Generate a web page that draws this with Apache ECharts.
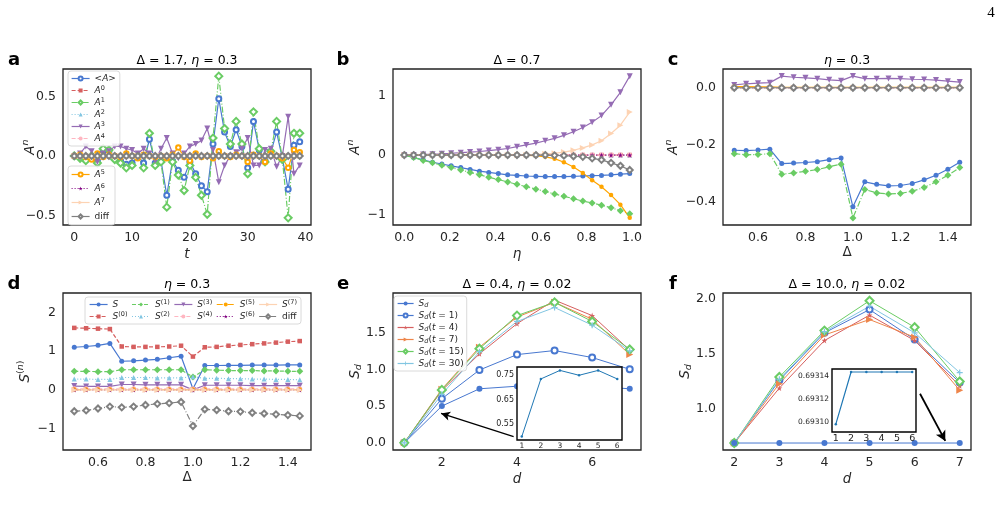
<!DOCTYPE html>
<html>
<head>
<meta charset="utf-8">
<script src="https://cdn.jsdelivr.net/npm/echarts@6/dist/echarts.min.js"></script>
<style>
  html, body { margin: 0; padding: 0; background: #fff; }
  #main { width: 1003px; height: 511px; }
</style>
</head>
<body>
<div id="main"></div>
<script>
// ---- panel a: A^n against t (Delta = 1.7, eta = 0.3)
var aT = [0,1,2,3,4,5,6,7,8,9,10,11,12,13,14,15,16,17,18,19,20,21,22,23,24,25,26,27,28,29,30,31,32,33,34,35,36,37,38,39];
var aMean = [0.00,-0.01,-0.03,0.00,-0.04,0.04,0.04,-0.02,-0.04,-0.07,-0.06,0.00,-0.06,0.14,-0.06,-0.04,-0.33,-0.04,-0.12,-0.18,-0.05,-0.15,-0.25,-0.30,0.10,0.48,0.20,0.08,0.22,0.08,-0.10,0.29,0.05,-0.04,0.03,0.20,-0.02,-0.28,0.09,0.12];
var aA0 = [0,0,0,0,0,0,0,0,0,0,0,0,0,0,0,0,0,0,0,0,0,0,0,0,0,0,0,0,0,0,0,0,0,0,0,0,0,0,0,0];
var aA1 = [0.00,-0.02,-0.04,0.00,-0.06,0.06,0.05,-0.03,-0.06,-0.10,-0.08,0.00,-0.10,0.19,-0.08,-0.05,-0.43,-0.05,-0.16,-0.29,-0.08,-0.18,-0.33,-0.49,0.15,0.67,0.23,0.10,0.29,0.10,-0.15,0.37,0.06,-0.05,0.04,0.29,-0.03,-0.52,0.19,0.19];
var aA2 = [0,0,0,0,0,0,0,0,0,0,0,0,0,0,0,0,0,0,0,0,0,0,0,0,0,0,0,0,0,0,0,0,0,0,0,0,0,0,0,0];
var aA3 = [0.00,0.02,0.08,0.04,-0.05,0.02,0.04,0.08,0.08,0.06,0.05,0.02,0.06,0.02,-0.04,0.06,0.15,0.02,-0.02,0.02,0.08,0.10,0.13,0.23,0.05,-0.22,-0.08,0.00,0.03,0.06,0.15,-0.08,-0.08,0.05,0.06,-0.09,0.00,0.33,-0.15,-0.08];
var aA4 = [0,0,0,0,0,0,0,0,0,0,0,0,0,0,0,0,0,0,0,0,0,0,0,0,0,0,0,0,0,0,0,0,0,0,0,0,0,0,0,0];
var aA5 = [0.00,0.01,-0.01,-0.03,0.02,-0.01,0.01,0.00,-0.01,0.02,0.00,-0.02,0.01,0.00,-0.01,0.00,-0.02,0.01,0.07,-0.01,-0.04,0.02,-0.01,0.00,-0.02,0.04,0.00,-0.01,0.01,0.00,-0.05,0.01,0.00,-0.05,0.02,0.00,-0.02,-0.10,0.05,0.03];
var aA6 = [0,0,0,0,0,0,0,0,0,0,0,0,0,0,0,0,0,0,0,0,0,0,0,0,0,0,0,0,0,0,0,0,0,0,0,0,0,0,0,0];
var aA7 = [0,0,0,0,0,0,0,0,0,0,0,0,0,0,0,0,0,0,0,0,0,0,0,0,0,0,0,0,0,0,0,0,0,0,0,0,0,0,0,0];
var aDiff = [0,0,0,0,0,0,0,0,0,0,0,0,0,0,0,0,0,0,0,0,0,0,0,0,0,0,0,0,0,0,0,0,0,0,0,0,0,0,0,0];

// ---- panel b: A^n against eta (Delta = 0.7)
var bEta = [0.000,0.041,0.083,0.124,0.165,0.206,0.248,0.289,0.330,0.371,0.413,0.454,0.495,0.536,0.578,0.619,0.660,0.701,0.743,0.784,0.825,0.866,0.908,0.949,0.990];
var bMean = [0,-0.04,-0.08,-0.12,-0.15,-0.18,-0.21,-0.24,-0.27,-0.29,-0.31,-0.33,-0.34,-0.35,-0.355,-0.36,-0.36,-0.36,-0.355,-0.35,-0.345,-0.34,-0.33,-0.32,-0.31];
var bA0 = [0,0,0,0,0,0,0,0,0,0,0,0,0,0,0,0,0,0,0,0,0,0,0,0,0];
var bA1 = [0,-0.04,-0.09,-0.13,-0.17,-0.21,-0.25,-0.29,-0.33,-0.37,-0.41,-0.45,-0.49,-0.53,-0.57,-0.61,-0.65,-0.69,-0.73,-0.77,-0.80,-0.84,-0.88,-0.93,-0.98];
var bA2 = [0,0,0,0,0,0,0,0,0,0,0,0,0,0,0,0,0,0,0,0,0,0,0,0,0];
var bA3 = [0,0.003,0.008,0.015,0.022,0.03,0.04,0.05,0.06,0.075,0.09,0.11,0.14,0.17,0.20,0.24,0.28,0.33,0.39,0.46,0.55,0.66,0.84,1.05,1.32];
var bA4 = [0,0,0,0,0,0,0,0,0,0,0,0,0,0,0,0,0,0,0,0,0,0,0,0,0];
var bA5 = [0,0,0,0,0,0,0,0,0,0,0,0,0,-0.005,-0.01,-0.03,-0.06,-0.12,-0.20,-0.30,-0.42,-0.53,-0.67,-0.83,-1.05];
var bA6 = [0,0,0,0,0,0,0,0,0,0,0,0,0,0,0,0,0,0,0,0,0,0,0,0,0];
var bA7 = [0,0,0,0,0,0,0,0,0,0,0,0,0,0.005,0.01,0.02,0.03,0.05,0.08,0.12,0.17,0.24,0.36,0.50,0.72];
var bDiff = [0,0,0,0,0,0,0,0,0,0,0,0,0,0,0,0,-0.005,-0.01,-0.02,-0.03,-0.055,-0.08,-0.13,-0.18,-0.25];

// ---- panel c: A^n against Delta (eta = 0.3)
var cDelta = [0.5,0.55,0.6,0.65,0.7,0.75,0.8,0.85,0.9,0.95,1.0,1.05,1.1,1.15,1.2,1.25,1.3,1.35,1.4,1.45];
var cMean = [-0.220,-0.221,-0.219,-0.216,-0.267,-0.265,-0.263,-0.260,-0.253,-0.247,-0.419,-0.331,-0.340,-0.345,-0.344,-0.337,-0.324,-0.308,-0.287,-0.262];
var cA1 = [-0.232,-0.236,-0.235,-0.232,-0.304,-0.300,-0.294,-0.288,-0.278,-0.269,-0.458,-0.358,-0.370,-0.374,-0.372,-0.364,-0.351,-0.331,-0.308,-0.281];
var cA3 = [0.010,0.014,0.016,0.018,0.041,0.037,0.035,0.032,0.028,0.025,0.041,0.032,0.032,0.033,0.032,0.030,0.029,0.027,0.023,0.020];
var cA5 = [0.004,0.004,0.003,0.003,0.001,0.001,0.001,0.001,0.001,0.001,0.001,0.001,0.001,0.001,0.001,0.001,0.001,0.001,0.001,0.001];
var cZero = [0,0,0,0,0,0,0,0,0,0,0,0,0,0,0,0,0,0,0,0];

// ---- panel d: S^(n) against Delta (eta = 0.3)
var dDelta = [0.5,0.55,0.6,0.65,0.7,0.75,0.8,0.85,0.9,0.95,1.0,1.05,1.1,1.15,1.2,1.25,1.3,1.35,1.4,1.45];
var dS = [1.10,1.12,1.15,1.20,0.74,0.75,0.77,0.79,0.83,0.87,0.03,0.63,0.63,0.635,0.635,0.64,0.64,0.64,0.645,0.645];
var dS0 = [1.60,1.59,1.58,1.57,1.12,1.11,1.11,1.11,1.12,1.14,0.86,1.10,1.11,1.14,1.16,1.18,1.20,1.22,1.245,1.26];
var dS1 = [0.48,0.48,0.47,0.47,0.52,0.52,0.52,0.52,0.52,0.52,0.33,0.52,0.51,0.50,0.50,0.50,0.49,0.49,0.48,0.48];
var dS2 = [0.28,0.28,0.27,0.27,0.32,0.32,0.32,0.31,0.31,0.31,0.34,0.30,0.30,0.29,0.29,0.28,0.28,0.27,0.27,0.26];
var dS3 = [0.10,0.09,0.09,0.09,0.14,0.14,0.13,0.13,0.13,0.13,0.00,0.12,0.12,0.12,0.12,0.11,0.11,0.11,0.11,0.11];
var dS4 = [0.03,0.03,0.03,0.03,0.03,0.03,0.03,0.03,0.03,0.03,0.03,0.03,0.03,0.03,0.03,0.03,0.03,0.03,0.03,0.03];
var dS5 = [0.01,0.01,0.01,0.01,0.01,0.01,0.01,0.01,0.01,0.01,0.01,0.01,0.01,0.01,0.01,0.01,0.01,0.01,0.01,0.01];
var dS6 = [0,0,0,0,0,0,0,0,0,0,0,0,0,0,0,0,0,0,0,0];
var dS7 = [0,0,0,0,0,0,0,0,0,0,0,0,0,0,0,0,0,0,0,0];
var dDiff = [-0.55,-0.53,-0.48,-0.43,-0.45,-0.43,-0.39,-0.36,-0.34,-0.31,-0.93,-0.50,-0.52,-0.55,-0.56,-0.59,-0.61,-0.63,-0.65,-0.67];

// ---- panel e: S_d against d (Delta = 0.4, eta = 0.02)
var eD = [1,2,3,4,5,6,7];
var eSd = [0.0,0.50,0.735,0.77,0.75,0.77,0.735];
var eT1 = [0.0,0.60,0.99,1.20,1.255,1.16,1.00];
var eT4 = [0.0,0.71,1.21,1.62,1.94,1.73,1.26];
var eT7 = [0.0,0.73,1.30,1.71,1.91,1.68,1.20];
var eT15 = [0.0,0.72,1.28,1.73,1.91,1.65,1.27];
var eT30 = [0.0,0.66,1.24,1.65,1.84,1.60,1.25];
var eInsetX = [1,2,3,4,5,6];
var eInsetY = [0.498,0.735,0.770,0.750,0.770,0.735];

// ---- panel f: S_d against d (Delta = 10.0, eta = 0.02)
var fD = [2,3,4,5,6,7];
var fSd = [0.693098,0.6931435,0.6931435,0.6931435,0.6931435,0.6931435];
var fT1 = [0.693,1.26,1.69,1.90,1.63,1.24];
var fT4 = [0.693,1.19,1.62,1.85,1.62,1.21];
var fT7 = [0.693,1.23,1.67,1.81,1.65,1.17];
var fT15 = [0.693,1.29,1.71,1.98,1.74,1.25];
var fT30 = [0.693,1.27,1.70,1.93,1.69,1.33];
var fInsetX = [1,2,3,4,5,6];
var fInsetY = [0.693098,0.6931435,0.6931435,0.6931435,0.6931435,0.6931435];

var FONT = 'DejaVu Sans';
var INK = '#262626';
var STAR = 'path://M50,0L61.8,35.4L99,35.4L68.9,57.3L80.4,92.7L50,70.8L19.6,92.7L31.1,57.3L1,35.4L38.2,35.4Z';
var PLUS = 'path://M40,0H60V40H100V60H60V100H40V60H0V40H40Z';

var C = {
    blue: '#4878d0', red: '#d65f5f', green: '#6acc64', sky: '#82c6e2', purple: '#956cb4',
    pink: '#ffb6c1', orange: '#ffa500', plum: '#800080', peach: '#fdd3b3', grey: '#808080', coral: '#ee854a'
};

var RICH = {
    i: { fontStyle: 'italic' },
    sup: { fontSize: 6.5, verticalAlign: 'top', lineHeight: 6 },
    supi: { fontSize: 6.5, fontStyle: 'italic', verticalAlign: 'top', lineHeight: 6 },
    sub: { fontSize: 6.5, fontStyle: 'italic', verticalAlign: 'bottom', lineHeight: 6 },
    sp: { width: 2 }
};
var BIGRICH = {
    i: { fontStyle: 'italic', fontSize: 13.5, lineHeight: 18 },
    sup: { fontSize: 9.5, verticalAlign: 'top', lineHeight: 9 },
    supi: { fontSize: 9.5, fontStyle: 'italic', verticalAlign: 'top', lineHeight: 9 },
    sub: { fontSize: 9.5, fontStyle: 'italic', verticalAlign: 'bottom', lineHeight: 9 }
};

var LABELS = {
    'a:mean': '<{i|A}>', 'a:0': '{i|A}{sup|0}', 'a:1': '{i|A}{sup|1}', 'a:2': '{i|A}{sup|2}',
    'a:3': '{i|A}{sup|3}', 'a:4': '{i|A}{sup|4}', 'a:5': '{i|A}{sup|5}', 'a:6': '{i|A}{sup|6}',
    'a:7': '{i|A}{sup|7}', 'a:diff': 'diff',
    'd:S': '{i|S}{sp| }', 'd:0': '{i|S}{sup|(0)}{sp| }', 'd:1': '{i|S}{sup|(1)}{sp| }', 'd:2': '{i|S}{sup|(2)}{sp| }',
    'd:3': '{i|S}{sup|(3)}{sp| }', 'd:4': '{i|S}{sup|(4)}{sp| }', 'd:5': '{i|S}{sup|(5)}{sp| }', 'd:6': '{i|S}{sup|(6)}{sp| }',
    'd:7': '{i|S}{sup|(7)}', 'd:diff': 'diff',
    'e:Sd': '{i|S}{sub|d}', 'e:1': '{i|S}{sub|d}({i|t} = 1)', 'e:4': '{i|S}{sub|d}({i|t} = 4)',
    'e:7': '{i|S}{sub|d}({i|t} = 7)', 'e:15': '{i|S}{sub|d}({i|t} = 15)', 'e:30': '{i|S}{sub|d}({i|t} = 30)'
};

function fmt(dec) {
    return function (v) {
        var s = Math.abs(v).toFixed(dec);
        return (v < -1e-12 ? '\u2212' : '') + s;
    };
}

function zip(xs, ys) {
    return xs.map(function (x, i) { return [x, ys[i]]; });
}

function mk(name, idx, xs, ys, st) {
    return {
        type: 'line', name: name, xAxisIndex: idx, yAxisIndex: idx,
        data: zip(xs, ys),
        symbol: st.symbol, symbolSize: st.size || 5, symbolRotate: st.rot || 0,
        showAllSymbol: true, animation: false, z: st.z || 2,
        lineStyle: { color: st.color, width: st.width || 1.2, type: st.type || 'solid' },
        itemStyle: { color: st.color, borderWidth: 0 },
        emphasis: { disabled: true }
    };
}

// line styles of the nine A^n curves plus diff
function styleSet(open) {
    return {
        mean: { color: C.blue, symbol: open ? 'emptyCircle' : 'circle', size: 5 },
        s0: { color: C.red, symbol: 'rect', size: 4.5, type: [4, 2] },
        s1: { color: C.green, symbol: open ? 'emptyDiamond' : 'diamond', size: 7, type: [6, 2, 1, 2] },
        s2: { color: C.sky, symbol: 'triangle', size: 5, type: [1, 2] },
        s3: { color: C.purple, symbol: 'triangle', rot: 180, size: 6 },
        s4: { color: C.pink, symbol: 'circle', size: 5, type: [4, 2] },
        s5: { color: C.orange, symbol: open ? 'emptyCircle' : 'circle', size: 4.5 },
        s6: { color: C.plum, symbol: STAR, size: 5, type: [1, 2] },
        s7: { color: C.peach, symbol: 'triangle', rot: -90, size: 6 },
        diff: { color: C.grey, symbol: 'emptyDiamond', size: 6 }
    };
}

var series = [];
var sa = styleSet(true);
series.push(mk('a:mean', 0, aT, aMean, sa.mean));
series.push(mk('a:0', 0, aT, aA0, sa.s0));
series.push(mk('a:1', 0, aT, aA1, sa.s1));
series.push(mk('a:2', 0, aT, aA2, sa.s2));
series.push(mk('a:3', 0, aT, aA3, sa.s3));
series.push(mk('a:4', 0, aT, aA4, sa.s4));
series.push(mk('a:5', 0, aT, aA5, sa.s5));
series.push(mk('a:6', 0, aT, aA6, sa.s6));
series.push(mk('a:7', 0, aT, aA7, sa.s7));
series.push(mk('a:diff', 0, aT, aDiff, sa.diff));

var sb = styleSet(false);
series.push(mk('b:mean', 1, bEta, bMean, sb.mean));
series.push(mk('b:0', 1, bEta, bA0, sb.s0));
series.push(mk('b:1', 1, bEta, bA1, sb.s1));
series.push(mk('b:2', 1, bEta, bA2, sb.s2));
series.push(mk('b:3', 1, bEta, bA3, sb.s3));
series.push(mk('b:4', 1, bEta, bA4, sb.s4));
series.push(mk('b:5', 1, bEta, bA5, sb.s5));
series.push(mk('b:6', 1, bEta, bA6, sb.s6));
series.push(mk('b:7', 1, bEta, bA7, sb.s7));
series.push(mk('b:diff', 1, bEta, bDiff, sb.diff));

series.push(mk('c:mean', 2, cDelta, cMean, sb.mean));
series.push(mk('c:0', 2, cDelta, cZero, sb.s0));
series.push(mk('c:1', 2, cDelta, cA1, sb.s1));
series.push(mk('c:2', 2, cDelta, cZero, sb.s2));
series.push(mk('c:3', 2, cDelta, cA3, sb.s3));
series.push(mk('c:4', 2, cDelta, cZero, sb.s4));
series.push(mk('c:5', 2, cDelta, cA5, sb.s5));
series.push(mk('c:6', 2, cDelta, cZero, sb.s6));
series.push(mk('c:7', 2, cDelta, cZero, sb.s7));
series.push(mk('c:diff', 2, cDelta, cZero, sb.diff));

var sd = styleSet(false);
sd.s1.type = [4, 2];
sd.s5.type = [6, 2, 1, 2];
sd.diff.type = [6, 2, 1, 2];
series.push(mk('d:S', 3, dDelta, dS, sd.mean));
series.push(mk('d:0', 3, dDelta, dS0, sd.s0));
series.push(mk('d:1', 3, dDelta, dS1, sd.s1));
series.push(mk('d:2', 3, dDelta, dS2, sd.s2));
series.push(mk('d:3', 3, dDelta, dS3, sd.s3));
series.push(mk('d:4', 3, dDelta, dS4, sd.s4));
series.push(mk('d:5', 3, dDelta, dS5, sd.s5));
series.push(mk('d:6', 3, dDelta, dS6, sd.s6));
series.push(mk('d:7', 3, dDelta, dS7, sd.s7));
series.push(mk('d:diff', 3, dDelta, dDiff, sd.diff));

var sdStyles = {
    sd: { color: C.blue, symbol: 'circle', size: 6, width: 1 },
    t1: { color: C.blue, symbol: 'emptyCircle', size: 6, width: 1 },
    t4: { color: C.red, symbol: STAR, size: 6, width: 1 },
    t7: { color: C.coral, symbol: 'triangle', rot: -90, size: 7, width: 1 },
    t15: { color: C.green, symbol: 'emptyDiamond', size: 8, width: 1 },
    t30: { color: C.sky, symbol: PLUS, size: 6, width: 1 }
};
var eSdSeries = mk('e:Sd', 4, eD, eSd, sdStyles.sd);
eSdSeries.markLine = {
    silent: true, animation: false, symbol: ['none', 'arrow'], symbolSize: [7, 9],
    label: { show: false }, lineStyle: { color: '#000', width: 1.3, type: 'solid' },
    data: [[{ coord: [3.91, 0.086] }, { coord: [1.98, 0.40] }]]
};
series.push(eSdSeries);
series.push(mk('e:1', 4, eD, eT1, sdStyles.t1));
series.push(mk('e:4', 4, eD, eT4, sdStyles.t4));
series.push(mk('e:7', 4, eD, eT7, sdStyles.t7));
series.push(mk('e:15', 4, eD, eT15, sdStyles.t15));
series.push(mk('e:30', 4, eD, eT30, sdStyles.t30));

var fSdSeries = mk('f:Sd', 5, fD, fSd, sdStyles.sd);
fSdSeries.markLine = {
    silent: true, animation: false, symbol: ['none', 'arrow'], symbolSize: [8, 10],
    label: { show: false }, lineStyle: { color: '#000', width: 1.8, type: 'solid' },
    data: [[{ coord: [6.12, 1.139] }, { coord: [6.68, 0.712] }]]
};
series.push(mk('f:1', 5, fD, fT1, sdStyles.t1));
series.push(mk('f:4', 5, fD, fT4, sdStyles.t4));
series.push(mk('f:7', 5, fD, fT7, sdStyles.t7));
series.push(mk('f:15', 5, fD, fT15, sdStyles.t15));
series.push(mk('f:30', 5, fD, fT30, sdStyles.t30));
series.push(fSdSeries);

series.push(mk('e:inset', 6, eInsetX, eInsetY, { color: '#1f77b4', symbol: 'circle', size: 2.5, width: 1, z: 12 }));
series.push(mk('f:inset', 7, fInsetX, fInsetY, { color: '#1f77b4', symbol: 'circle', size: 2.5, width: 1.2, z: 12 }));

// panel frames and axes
var panels = [
    { g: [63, 69, 248, 156], x: [-1.95, 40.95], xt: [0, 10, 20, 30, 40], xd: 0, y: [-0.58, 0.73], yt: [-0.5, 0, 0.5], yd: 1, xn: '{i|t}', yn: '{i|A}{supi|n}', yg: 24 },
    { g: [393, 69, 248, 156], x: [-0.0495, 1.0395], xt: [0, 0.2, 0.4, 0.6, 0.8, 1.0], xd: 1, y: [-1.17, 1.44], yt: [-1, 0, 1], yd: 0, xn: '{i|η}', yn: '{i|A}{supi|n}', yg: 29 },
    { g: [723, 69, 248, 156], x: [0.4525, 1.4975], xt: [0.6, 0.8, 1.0, 1.2, 1.4], xd: 1, y: [-0.483, 0.066], yt: [-0.4, -0.2, 0], yd: 1, xn: 'Δ', yn: '{i|A}{supi|n}', yg: 41 },
    { g: [63, 293, 248, 157], x: [0.4525, 1.4975], xt: [0.6, 0.8, 1.0, 1.2, 1.4], xd: 1, y: [-1.55, 2.5], yt: [-1, 0, 1, 2], yd: 0, xn: 'Δ', yn: '{i|S}{sup|(}{supi|n}{sup|)}', yg: 29 },
    { g: [393, 293, 248, 157], x: [0.7, 7.3], xt: [2, 4, 6], xd: 0, y: [-0.097, 2.037], yt: [0, 0.5, 1, 1.5], yd: 1, xn: '{i|d}', yn: '{i|S}{sub|d}', yg: 29 },
    { g: [723, 293, 248, 157], x: [1.75, 7.25], xt: [2, 3, 4, 5, 6, 7], xd: 0, y: [0.63, 2.05], yt: [1, 1.5, 2], yd: 1, xn: '{i|d}', yn: '{i|S}{sub|d}', yg: 29 },
    { g: [517, 367, 105, 73], x: [0.75, 6.25], xt: [1, 2, 3, 4, 5, 6], xd: 0, y: [0.484, 0.784], yt: [0.55, 0.65, 0.75], yd: 2, inset: true, xfs: 7.5, yfs: 8 },
    { g: [832, 369, 84, 63], x: [0.75, 6.25], xt: [1, 2, 3, 4, 5, 6], xd: 0, y: [0.6930912, 0.6931461], yt: [0.6931, 0.69312, 0.69314], yd: 5, inset: true, xfs: 9.5, yfs: 7.5 }
];

var grids = [], xAxes = [], yAxes = [];
panels.forEach(function (p, k) {
    var zz = p.inset ? 10 : 0;
    grids.push({
        left: p.g[0], top: p.g[1], width: p.g[2], height: p.g[3],
        show: true, backgroundColor: '#fff', borderColor: p.inset ? '#000' : '#222',
        borderWidth: p.inset ? 1.4 : 1.3, z: zz, outerBoundsMode: 'none', containLabel: false
    });
    xAxes.push({
        type: 'value', gridIndex: k, min: p.x[0], max: p.x[1], z: zz + 1,
        axisLine: { show: false }, axisTick: { show: false }, splitLine: { show: false },
        axisLabel: {
            customValues: p.xt, formatter: fmt(p.xd), color: INK, fontFamily: FONT,
            fontSize: p.inset ? p.xfs : 12.5, margin: p.inset ? 2 : 6
        },
        name: p.xn || '', nameLocation: 'middle', nameGap: 20, nameMoveOverlap: false,
        nameTextStyle: { color: INK, fontFamily: FONT, fontSize: 13.5, rich: BIGRICH }
    });
    yAxes.push({
        type: 'value', gridIndex: k, min: p.y[0], max: p.y[1], z: zz + 1,
        axisLine: { show: false }, axisTick: { show: false }, splitLine: { show: false },
        axisLabel: {
            customValues: p.yt, formatter: fmt(p.yd), color: INK, fontFamily: FONT,
            fontSize: p.inset ? p.yfs : 12.5, margin: p.inset ? 3 : 7
        },
        name: p.yn || '', nameLocation: 'middle', nameRotate: 90, nameGap: p.yg || 0, nameMoveOverlap: false,
        nameTextStyle: { color: INK, fontFamily: FONT, fontSize: 13.5, lineHeight: 18, rich: BIGRICH }
    });
});

function legendBox(names, left, top, extra) {
    var base = {
        data: names, left: left, top: top, orient: 'vertical',
        itemWidth: 18, itemHeight: 5, itemGap: 1, padding: [2, 4, 2, 3],
        backgroundColor: 'rgba(255,255,255,0.85)', borderColor: '#d0d0d0', borderWidth: 0.8, borderRadius: 3,
        selectedMode: false, inactiveColor: '#999',
        lineStyle: { width: 1.2 },
        formatter: function (n) { return LABELS[n]; },
        textStyle: { fontFamily: FONT, fontSize: 9, color: INK, lineHeight: 11, rich: RICH }
    };
    for (var key in extra) { base[key] = extra[key]; }
    return base;
}

var legends = [
    legendBox(['a:mean', 'a:0', 'a:1', 'a:2', 'a:3', 'a:4'], 68, 71, {}),
    legendBox(['a:5', 'a:6', 'a:7', 'a:diff'], 68, 166, { itemGap: 3, padding: [3, 6, 3, 3] }),
    legendBox(['d:S', 'd:0', 'd:1', 'd:2', 'd:3', 'd:4', 'd:5', 'd:6', 'd:7', 'd:diff'], 85, 297, { height: 24, padding: [2, 4, 2, 4] }),
    legendBox(['e:Sd', 'e:1', 'e:4', 'e:7', 'e:15', 'e:30'], 394, 296, { itemWidth: 16, padding: [2, 3, 2, 3] })
];

function ttl(text, x, y, size, weight, family) {
    return {
        text: text, left: x, top: y, textAlign: 'center', padding: 0,
        textStyle: {
            fontFamily: family || FONT, fontSize: size, fontWeight: weight || 'normal', color: '#000',
            rich: { i: { fontStyle: 'italic', fontSize: size, fontFamily: FONT, color: '#000' } }
        }
    };
}

var titles = [
    ttl('Δ = 1.7, {i|η} = 0.3', 187, 54, 12.5),
    ttl('Δ = 0.7', 517, 54, 12.5),
    ttl('{i|η} = 0.3', 847, 54, 12.5),
    ttl('{i|η} = 0.3', 187, 278, 12.5),
    ttl('Δ = 0.4, {i|η} = 0.02', 517, 278, 12.5),
    ttl('Δ = 10.0, {i|η} = 0.02', 847, 278, 12.5),
    ttl('a', 14, 51, 18, 'bold'),
    ttl('b', 343, 51, 18, 'bold'),
    ttl('c', 673, 51, 18, 'bold'),
    ttl('d', 14, 275, 18, 'bold'),
    ttl('e', 343, 275, 18, 'bold'),
    ttl('f', 673, 275, 18, 'bold'),
    ttl('4', 991, 6, 15, 'normal', 'Liberation Serif')
];

var chart = echarts.init(document.getElementById('main'), null, { renderer: 'canvas' });
chart.setOption({
    animation: false,
    backgroundColor: '#fff',
    textStyle: { fontFamily: FONT },
    title: titles,
    legend: legends,
    grid: grids,
    xAxis: xAxes,
    yAxis: yAxes,
    series: series
});
</script>
</body>
</html>
